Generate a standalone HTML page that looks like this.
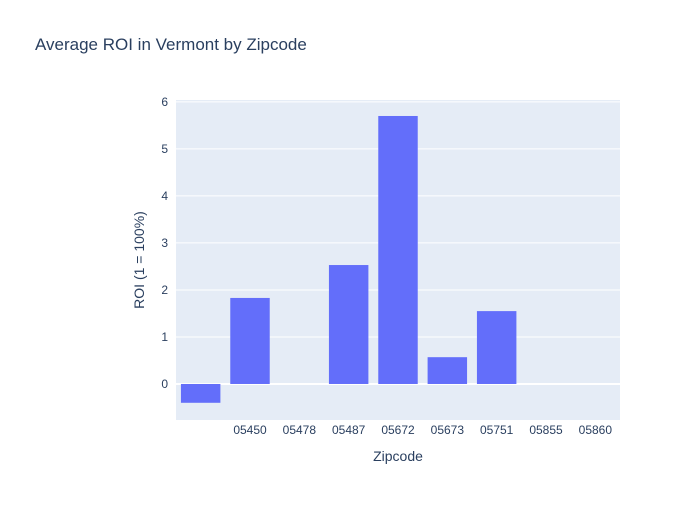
<!DOCTYPE html>
<html><head><meta charset="utf-8"><style>
body{margin:0;background:#fff;font-family:"Liberation Sans",sans-serif}
svg text{font-family:"Liberation Sans",sans-serif}
</style></head><body>
<svg id="c" width="700" height="500">
<rect width="700" height="500" fill="#fff"/>
<text x="35" y="50" font-size="17" fill="#2a3f5f">Average ROI in Vermont by Zipcode</text>
<rect x="176" y="100" width="444" height="320" fill="#e5ecf6"/>
<g id="grid"></g><g id="bars"></g><g id="ticks"></g>
<text x="398" y="461" font-size="14" fill="#2a3f5f" text-anchor="middle">Zipcode</text>
<text transform="translate(144,260) rotate(-90)" font-size="14" fill="#2a3f5f" text-anchor="middle">ROI (1 = 100%)</text>
</svg>
<script>
const categories=["","05450","05478","05487","05672","05673","05751","05855","05860"];
const values=[-0.40,1.83,0,2.53,5.70,0.57,1.55,0,0];
const yTicks=[0,1,2,3,4,5,6];
const NS="http://www.w3.org/2000/svg";
const x0=176,x1=620,yTop=100,yBot=420,yMin=-0.766,yMax=6.04;
const y=v=>yBot-(v-yMin)/(yMax-yMin)*(yBot-yTop);
const step=(x1-x0)/categories.length;
const xc=i=>x0+step*(i+0.5);
function mk(t,a,p){const e=document.createElementNS(NS,t);for(const k in a)e.setAttribute(k,a[k]);p.appendChild(e);return e;}
const g=document.getElementById('grid'),b=document.getElementById('bars'),tk=document.getElementById('ticks');
yTicks.forEach(v=>{
 const l=mk('line',{x1:x0,x2:x1,y1:y(v),y2:y(v),stroke:'#fff','stroke-width':v===0?2:1},g);
 
 
 const t=mk('text',{x:x0-8,y:y(v)+4,'font-size':12,fill:'#2a3f5f','text-anchor':'end'},tk);
 t.textContent=v;
 
 
});
values.forEach((v,i)=>{
 const w=step*0.8,top=Math.min(y(v),y(0)),h=Math.abs(y(v)-y(0));
 const r=mk('rect',{x:xc(i)-w/2,y:top,width:w,height:h,fill:'#636efa'},b);
 
 
 const t=mk('text',{x:xc(i),y:yBot+14,'font-size':12,fill:'#2a3f5f','text-anchor':'middle'},tk);
 t.textContent=categories[i];
 
 
});
</script>
</body></html>
